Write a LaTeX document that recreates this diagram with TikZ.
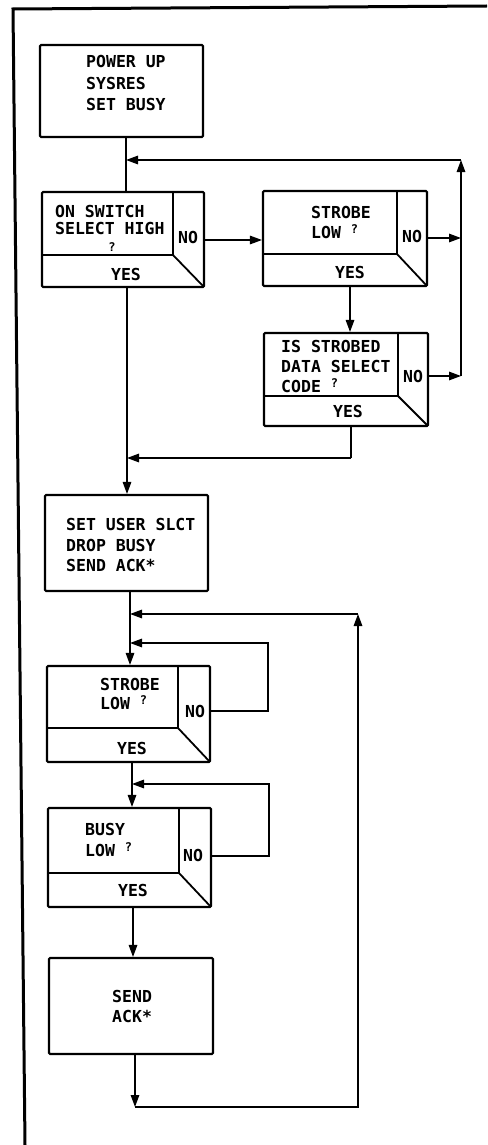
\documentclass[tikz,border=0pt]{standalone}
\usepackage{fontspec}
\newfontfamily\lfont{DejaVu Sans Mono Bold}
\usetikzlibrary{arrows.meta}
\newcommand\qm{\raisebox{.25em}{\fontsize{12}{12}\selectfont ?}}
\newcommand\qmlow{{\fontsize{12}{12}\selectfont ?}}
\newcommand\mybox[5]{\node[box, minimum width={#4-#2}, minimum height={#5-#3}] (#1) at ({(#2+#4)/2},{(#3+#5)/2}) {};}
\newcommand\mydec[7]{\mybox{#1}{#2}{#3}{#4}{#5}\draw[innerline] (#6,#3) -- (#6,#7) (#2,#7) -- (#6,#7) -- (#4,#5);}
\begin{document}
\begin{tikzpicture}[x=1pt,y=-1pt,
  box/.style={draw, line width=2.1pt, rounded corners=1.2pt, inner sep=0pt},
  innerline/.style={line width=1.8pt},
  conn/.style={line width=1.4pt},
  arr/.style={conn, -{Triangle[length=12pt,width=8.5pt]}},
  lbl/.style={inner sep=0pt, font=\lfont\fontsize{16.5}{20}\selectfont},
  lw/.style={lbl, anchor=base west},
  lc/.style={lbl, anchor=base},
  frameline/.style={line width=3pt}]
\useasboundingbox (0,0) rectangle (487,1145);
\draw[frameline] (487,6) -- (13,9) -- (25,1145);
% boxes
\mybox{b1}{40}{45}{203}{137}
\mydec{d1}{42}{192}{204}{287}{173}{255}
\mydec{d2}{263}{191}{427}{286}{397}{254}
\mydec{d3}{264}{333}{428}{426}{398}{396}
\mybox{b5}{45}{495}{208}{591}
\mydec{d4}{47}{666}{210}{762}{178}{728}
\mydec{d5}{48}{808}{211}{907}{179}{873}
\mybox{b8}{49}{958}{213}{1054}
% texts
\node[lw] (t1a) at (86,68) {POWER UP};
\node[lw] (t1b) at (86,90) {SYSRES};
\node[lw] (t1c) at (86,111) {SET BUSY};
\node[lw] (t2a) at (55,217) {ON SWITCH};
\node[lw] (t2b) at (55,234) {SELECT HIGH};
\node[lc] (t2c) at (112,251) {\qmlow};
\node[lc] (t2n) at (188,243) {NO};
\node[lc] (t2y) at (126,280) {YES};
\node[lw] (t3a) at (311,218) {STROBE};
\node[lw] (t3b) at (311,238) {LOW \qm};
\node[lc] (t3n) at (412,242) {NO};
\node[lc] (t3y) at (350,278) {YES};
\node[lw] (t4a) at (281,352) {IS STROBED};
\node[lw] (t4b) at (281,372) {DATA SELECT};
\node[lw] (t4c) at (281,392) {CODE \qm};
\node[lc] (t4n) at (413,382) {NO};
\node[lc] (t4y) at (348,417) {YES};
\node[lw] (t5a) at (66,530) {SET USER SLCT};
\node[lw] (t5b) at (66,551) {DROP BUSY};
\node[lw] (t5c) at (66,571) {SEND ACK*};
\node[lw] (t6a) at (100,690) {STROBE};
\node[lw] (t6b) at (100,709) {LOW \qm};
\node[lc] (t6n) at (195,717) {NO};
\node[lc] (t6y) at (132,754) {YES};
\node[lw] (t7a) at (85,835) {BUSY};
\node[lw] (t7b) at (85,856) {LOW \qm};
\node[lc] (t7n) at (193,861) {NO};
\node[lc] (t7y) at (133,896) {YES};
\node[lw] (t8a) at (112,1002) {SEND};
\node[lw] (t8b) at (112,1022) {ACK*};
% junction coordinates
\coordinate (j1) at (126,160);
\coordinate (r1) at (461,160);
\coordinate (r2) at (461,238);
\coordinate (r3) at (461,376);
\coordinate (c3) at (351,458);
\coordinate (j2) at (127,458);
\coordinate (j3) at (130,614);
\coordinate (j4) at (130,643);
\coordinate (j5) at (132,784);
\coordinate (bl) at (135,1107);
\coordinate (br) at (358,1107);
\coordinate (rt) at (358,614);
% connectors
\draw[conn] (b1.south -| j1) -- (d1.north -| j1);
\draw[arr] (d1.east |- 0,240) -- (d2.west |- 0,240);
\draw[arr] (d2.east |- r2) -- (r2);
\draw[arr] (d2.south -| 350,0) -- (d3.north -| 350,0);
\draw[arr] (d3.east |- r3) -- (r3);
\draw[arr] (r3) -- (r1);
\draw[arr] (r1) -- (j1);
\draw[conn] (d3.south -| c3) -- (c3);
\draw[arr] (c3) -- (j2);
\draw[arr] (d1.south -| j2) -- (b5.north -| j2);
\draw[arr] (b5.south -| j3) -- (d4.north -| j3);
\draw[arr] (d4.east |- 0,711) -- (268,711) -- (268,643) -- (j4);
\draw[arr] (d4.south -| j5) -- (d5.north -| j5);
\draw[arr] (d5.east |- 0,856) -- (269,856) -- (269,784) -- (j5);
\draw[arr] (d5.south -| 133,0) -- (b8.north -| 133,0);
\draw[arr] (b8.south -| bl) -- (bl);
\draw[arr] (bl) -- (br) -- (rt);
\draw[arr] (rt) -- (j3);
\end{tikzpicture}
\end{document}
